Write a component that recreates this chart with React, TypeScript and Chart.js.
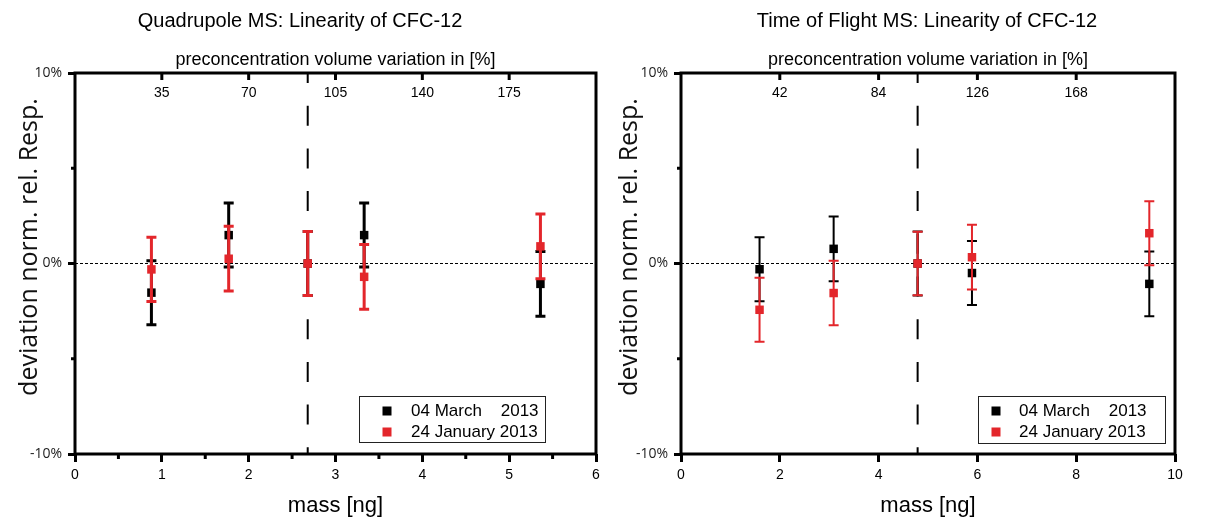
import React, { useEffect, useRef } from 'react';
import { Chart, registerables } from 'chart.js';

Chart.register(...registerables);

// ---------- data ----------
const seriesLabels = ['04 March    2013', '24 January 2013'];
const seriesColors = ['#000000', '#e3262b'];

const quadTitle = 'Quadrupole MS: Linearity of CFC-12';
const tofTitle = 'Time of Flight MS: Linearity of CFC-12';
const xAxisTitle = 'mass [ng]';
const topAxisTitle = 'preconcentration volume variation in [%]';
const yAxisTitle = 'deviation norm. rel. Resp.';

// Quadrupole MS
const quadMass = [0.88, 1.77, 2.68, 3.33, 5.36];
const quadMarch = [-1.53, 1.49, 0, 1.49, -1.07];
const quadMarchErr = [1.68, 1.68, 1.68, 1.68, 1.7];
const quadJanuary = [-0.31, 0.25, 0, -0.7, 0.9];
const quadJanuaryErr = [1.69, 1.7, 1.68, 1.7, 1.7];
const quadRefMass = 2.68;
const quadMassMax = 6;
const quadMassStep = 1;
const quadTopStep = 35;

// Time of Flight MS
const tofMass = [1.59, 3.09, 4.79, 5.89, 9.48];
const tofMarch = [-0.3, 0.77, 0, -0.5, -1.07];
const tofMarchErr = [1.68, 1.7, 1.68, 1.68, 1.7];
const tofJanuary = [-2.43, -1.55, 0, 0.33, 1.59];
const tofJanuaryErr = [1.68, 1.69, 1.67, 1.7, 1.68];
const tofRefMass = 4.79;
const tofMassMax = 10;
const tofMassStep = 2;
const tofTopStep = 42;

const topAxisMax = 210;
const yMin = -10;
const yMax = 10;
const yLabelStep = 10;
const yMinorTicks = [-5, 5];

// ---------- plugins ----------
const errorBarPlugin = {
  id: 'errorBars',
  beforeDatasetDraw(chart: any, args: any) {
    const ds: any = chart.data.datasets[args.index];
    if (!ds.errors) return;
    const xs = chart.scales.x;
    const ys = chart.scales.y;
    const ctx = chart.ctx;
    const cap = ds.capHalf || 5;
    ctx.save();
    ctx.strokeStyle = ds.borderColor;
    ctx.lineWidth = ds.errorLineWidth || 2;
    ds.data.forEach((pt: any, i: number) => {
      const px = xs.getPixelForValue(pt.x);
      const top = ys.getPixelForValue(pt.y + ds.errors[i]);
      const bot = ys.getPixelForValue(pt.y - ds.errors[i]);
      ctx.beginPath();
      ctx.moveTo(px, top);
      ctx.lineTo(px, bot);
      ctx.moveTo(px - cap, top);
      ctx.lineTo(px + cap, top);
      ctx.moveTo(px - cap, bot);
      ctx.lineTo(px + cap, bot);
      ctx.stroke();
    });
    ctx.restore();
  },
};

const decorPlugin = {
  id: 'decor',
  afterDraw(chart: any) {
    const o = chart.options.plugins.decor;
    const ctx = chart.ctx;
    const a = chart.chartArea;
    const xs = chart.scales.x;
    const x2 = chart.scales.x2;
    const ys = chart.scales.y;
    ctx.save();
    ctx.strokeStyle = '#000';
    ctx.lineWidth = 3;
    // minor ticks on the mass axis
    if (o.xMinorStep) {
      for (let v = o.xMinorStep; v < xs.max; v += o.xMinorStep * 2) {
        const px = xs.getPixelForValue(v);
        ctx.beginPath();
        ctx.moveTo(px, a.bottom);
        ctx.lineTo(px, a.bottom + 5);
        ctx.stroke();
      }
    }
    // inward ticks of the top (volume) axis
    x2.ticks.forEach((t: any) => {
      if (t.value <= x2.min || t.value >= x2.max) return;
      const px = x2.getPixelForValue(t.value);
      ctx.beginPath();
      ctx.moveTo(px, a.top);
      ctx.lineTo(px, a.top + 7);
      ctx.stroke();
    });
    // minor ticks on the y axis
    yMinorTicks.forEach((v) => {
      const py = ys.getPixelForValue(v);
      ctx.beginPath();
      ctx.moveTo(a.left, py);
      ctx.lineTo(a.left - 4, py);
      ctx.stroke();
    });
    // frame
    ctx.lineWidth = 3;
    ctx.strokeRect(a.left, a.top, a.right - a.left, a.bottom - a.top);

    // main title
    ctx.fillStyle = '#000';
    ctx.font = '20px "Liberation Sans", Arial, sans-serif';
    ctx.textAlign = 'center';
    ctx.textBaseline = 'middle';
    ctx.fillText(o.title, o.titleX, 21);

    // y axis title
    ctx.save();
    ctx.translate(o.yTitleX, 247);
    ctx.rotate(-Math.PI / 2);
    ctx.font = '25px "Open Sans", sans-serif';
    ctx.textAlign = 'center';
    ctx.textBaseline = 'alphabetic';
    ctx.fillStyle = '#111';
    ctx.fillText(yAxisTitle, 0, 0);
    ctx.restore();

    // legend
    const L = o.legend;
    ctx.lineWidth = 1;
    ctx.strokeStyle = '#222';
    ctx.strokeRect(L.x + 0.5, L.y + 0.5, L.w, L.h);
    ctx.font = '17px "Liberation Sans", Arial, sans-serif';
    ctx.textAlign = 'left';
    ctx.textBaseline = 'middle';
    seriesLabels.forEach((lab, i) => {
      const ry = L.rows[i];
      ctx.fillStyle = seriesColors[i];
      ctx.fillRect(L.markerX - 4.5, ry - 4.5, 9, 9);
      ctx.fillStyle = '#000';
      ctx.fillText(lab, L.textX, ry);
    });
    ctx.restore();
  },
};

type PanelProps = {
  left: number;
  width: number;
  plotLeft: number;
  plotRight: number;
  title: string;
  titleX: number;
  mass: number[];
  march: number[];
  marchErr: number[];
  jan: number[];
  janErr: number[];
  refMass: number;
  massMax: number;
  massStep: number;
  topStep: number;
  xMinorStep: number | null;
  errWidth: number;
  yTitleX: number;
  legend: any;
};

function Panel(p: PanelProps) {
  const ref = useRef<HTMLCanvasElement>(null);
  useEffect(() => {
    if (!ref.current) return;
    const pts = (xs: number[], ys: number[]) => xs.map((x, i) => ({ x, y: ys[i] }));
    const tickFont = { family: '"Liberation Sans", Arial, sans-serif', size: 14 };
    const chart = new Chart(ref.current, {
      type: 'scatter',
      data: {
        datasets: [
          {
            label: 'zero',
            data: [{ x: 0, y: 0 }, { x: p.massMax, y: 0 }],
            showLine: true,
            borderColor: '#000',
            borderWidth: 1,
            borderDash: [3, 2],
            pointRadius: 0,
            order: 10,
          } as any,
          {
            label: 'reference',
            data: [{ x: p.refMass, y: yMax }, { x: p.refMass, y: yMin }],
            showLine: true,
            borderColor: '#000',
            borderWidth: 2,
            borderDash: [20, 22.7],
            borderDashOffset: 10,
            pointRadius: 0,
            order: 9,
          } as any,
          {
            label: seriesLabels[0],
            data: pts(p.mass, p.march),
            errors: p.marchErr,
            errorLineWidth: p.errWidth,
            capHalf: 5,
            borderColor: seriesColors[0],
            backgroundColor: seriesColors[0],
            pointStyle: 'rect',
            pointRadius: 6,
            borderWidth: 0,
            order: 2,
          } as any,
          {
            label: seriesLabels[1],
            data: pts(p.mass, p.jan),
            errors: p.janErr,
            errorLineWidth: p.errWidth,
            capHalf: 5,
            borderColor: seriesColors[1],
            backgroundColor: seriesColors[1],
            pointStyle: 'rect',
            pointRadius: 6,
            borderWidth: 0,
            order: 1,
          } as any,
        ],
      },
      options: {
        animation: false,
        responsive: false,
        events: [],
        layout: { padding: { left: 0, right: p.width - (p.plotRight - p.left), top: 0, bottom: 0 } },
        plugins: {
          legend: { display: false },
          title: { display: false },
          tooltip: { enabled: false },
          decor: {
            title: p.title,
            titleX: p.titleX,
            xMinorStep: p.xMinorStep,
            yTitleX: p.yTitleX,
            legend: p.legend,
          },
        } as any,
        scales: {
          x: {
            type: 'linear',
            position: 'bottom',
            min: 0,
            max: p.massMax,
            ticks: {
              stepSize: p.massStep,
              font: tickFont,
              color: '#000',
              padding: 5,
              maxRotation: 0,
              autoSkip: false,
            },
            grid: { drawOnChartArea: false, drawTicks: true, tickLength: 8, tickWidth: 3, tickColor: '#000' },
            border: { display: false },
            title: {
              display: true,
              text: xAxisTitle,
              color: '#000',
              font: { family: '"Liberation Sans", Arial, sans-serif', size: 22 },
              padding: { top: 0, bottom: 0 },
            },
            afterFit: (s: any) => {
              s.height = 65;
            },
          },
          x2: {
            type: 'linear',
            position: 'top',
            min: 0,
            max: topAxisMax,
            ticks: {
              stepSize: p.topStep,
              callback: (v: any) => (v === 0 || v === topAxisMax ? '' : String(v)),
              font: tickFont,
              color: '#000',
              mirror: true,
              padding: 12,
              maxRotation: 0,
              autoSkip: false,
            },
            grid: { drawOnChartArea: false, drawTicks: false },
            border: { display: false },
            title: {
              display: true,
              text: topAxisTitle,
              color: '#000',
              font: { family: '"Liberation Sans", Arial, sans-serif', size: 18 },
              padding: { top: 49, bottom: 0 },
            },
            afterFit: (s: any) => {
              s.height = 73;
            },
          },
          y: {
            type: 'linear',
            min: yMin,
            max: yMax,
            ticks: {
              stepSize: yLabelStep,
              callback: (v: any) => v + '%',
              font: { family: '"Open Sans", sans-serif', size: 14 },
              color: '#222',
              padding: 6,
            },
            grid: { drawOnChartArea: false, drawTicks: true, tickLength: 7, tickWidth: 3, tickColor: '#000' },
            border: { display: false },
            afterFit: (s: any) => {
              s.width = p.plotLeft - p.left;
            },
          },
        },
      } as any,
      plugins: [errorBarPlugin, decorPlugin] as any,
    });
    return () => chart.destroy();
  }, []);
  return (
    <canvas
      ref={ref}
      width={p.width}
      height={519}
      style={{ position: 'absolute', left: p.left, top: 0, width: p.width, height: 519 }}
    />
  );
}

export default function App() {
  useEffect(() => {
    document.body.style.margin = '0';
  }, []);
  return (
    <div style={{ position: 'relative', width: 1211, height: 519, background: '#fff', overflow: 'hidden' }}>
      <Panel
        left={0}
        width={610}
        plotLeft={75}
        plotRight={596}
        title={quadTitle}
        titleX={300}
        mass={quadMass}
        march={quadMarch}
        marchErr={quadMarchErr}
        jan={quadJanuary}
        janErr={quadJanuaryErr}
        refMass={quadRefMass}
        massMax={quadMassMax}
        massStep={quadMassStep}
        topStep={quadTopStep}
        xMinorStep={0.5}
        errWidth={3}
        yTitleX={37}
        legend={{ x: 359, y: 396, w: 186, h: 46, markerX: 387, textX: 411, rows: [411, 432] }}
      />
      <Panel
        left={605}
        width={606}
        plotLeft={681}
        plotRight={1175}
        title={tofTitle}
        titleX={927 - 605}
        mass={tofMass}
        march={tofMarch}
        marchErr={tofMarchErr}
        jan={tofJanuary}
        janErr={tofJanuaryErr}
        refMass={tofRefMass}
        massMax={tofMassMax}
        massStep={tofMassStep}
        topStep={tofTopStep}
        xMinorStep={null}
        errWidth={2}
        yTitleX={637 - 605}
        legend={{ x: 978 - 605, y: 396, w: 187, h: 47, markerX: 996 - 605, textX: 1019 - 605, rows: [411, 432] }}
      />
    </div>
  );
}
